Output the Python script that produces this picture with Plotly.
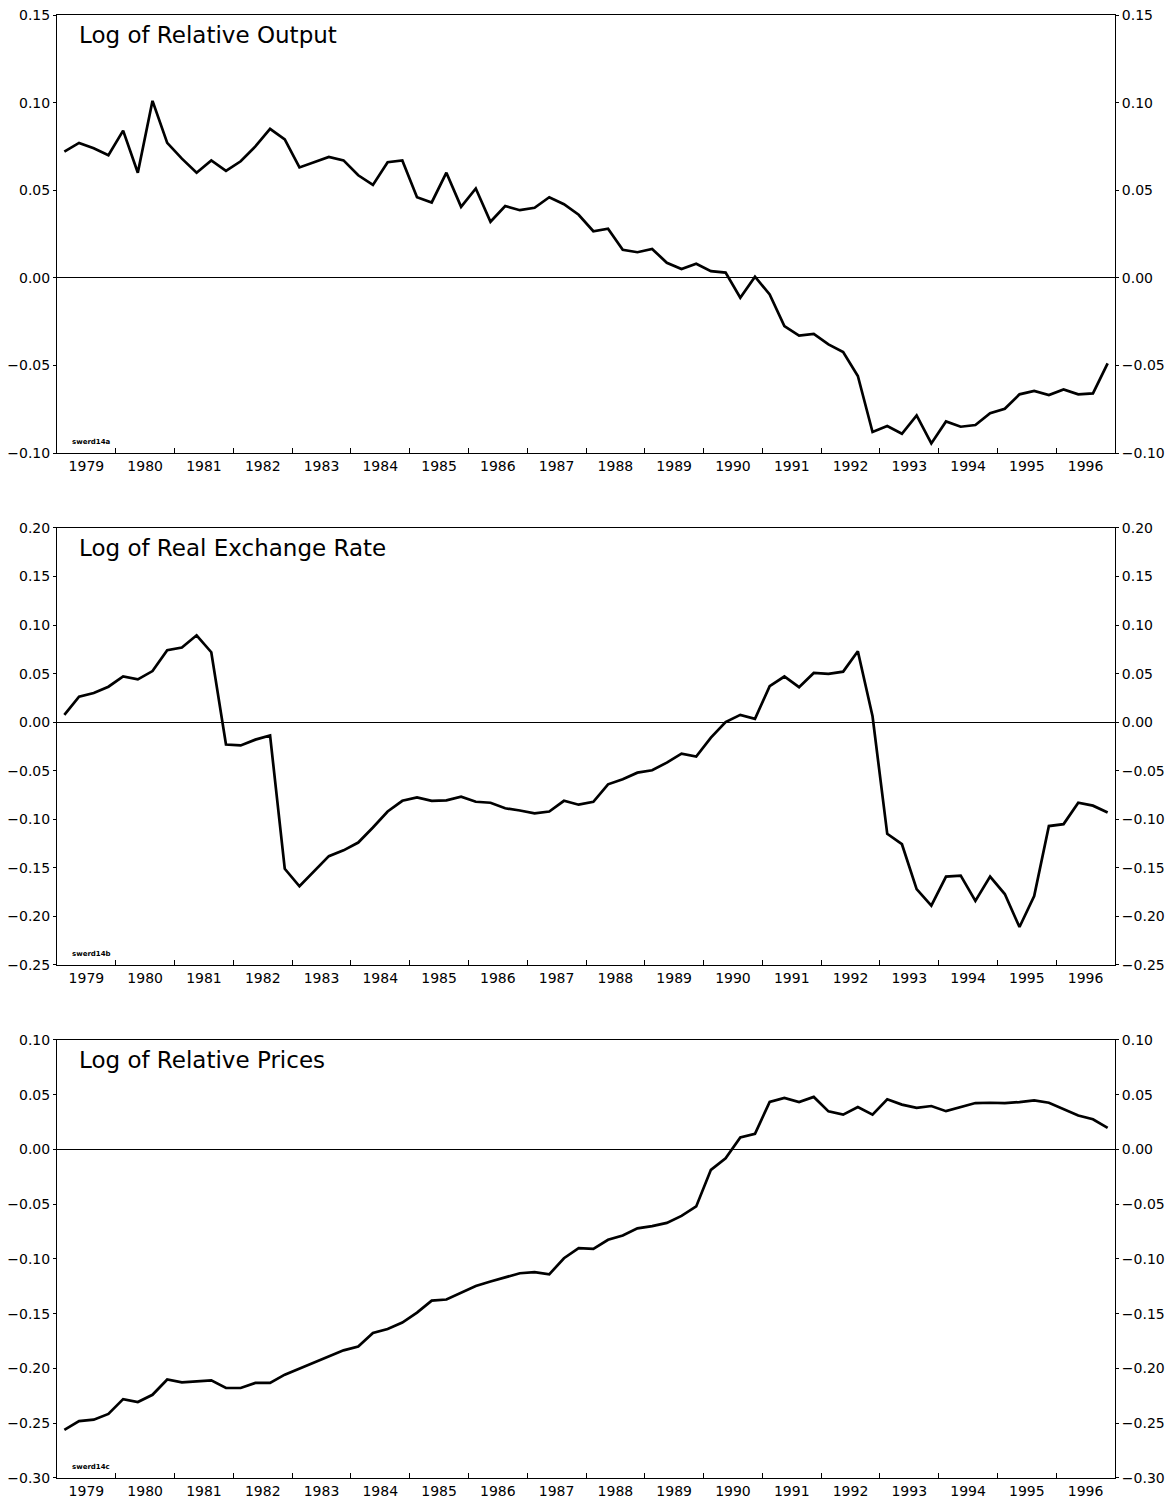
import plotly.graph_objects as go

# quarterly data, 1979Q1 .. 1996Q4
years = list(range(1979, 1997))
quarters = [f"{y}Q{q}" for y in years for q in range(1, 5)]

rel_output = [0.072, 0.077, 0.074, 0.070, 0.084, 0.060, 0.101, 0.077,
              0.068, 0.060, 0.067, 0.061, 0.0665, 0.075, 0.085, 0.079,
              0.063, 0.066, 0.069, 0.067, 0.0585, 0.053, 0.066, 0.067,
              0.046, 0.043, 0.060, 0.0405, 0.051, 0.032, 0.041, 0.0386,
              0.040, 0.046, 0.042, 0.036, 0.0266, 0.028, 0.016, 0.0146,
              0.0165, 0.0086, 0.005, 0.008, 0.0038, 0.003, -0.0114, 0.0006,
              -0.0095, -0.0276, -0.033, -0.032, -0.038, -0.0424, -0.056, -0.088,
              -0.0846, -0.089, -0.0785, -0.0945, -0.082, -0.085, -0.084, -0.0773,
              -0.0747, -0.0665, -0.0646, -0.0669, -0.0637, -0.0665, -0.066, -0.0488]

real_exch = [0.0075, 0.0263, 0.030, 0.0365, 0.047, 0.044, 0.0526, 0.074,
             0.0768, 0.0894, 0.072, -0.023, -0.024, -0.018, -0.0137, -0.151,
             -0.169, -0.1536, -0.138, -0.132, -0.124, -0.1085, -0.092, -0.081,
             -0.0775, -0.081, -0.0805, -0.0768, -0.082, -0.083, -0.0887, -0.091,
             -0.094, -0.092, -0.081, -0.085, -0.082, -0.064, -0.0587, -0.052,
             -0.0495, -0.0417, -0.0324, -0.0355, -0.016, 0.000, 0.0075, 0.0034,
             0.037, 0.047, 0.036, 0.0507, 0.0497, 0.052, 0.073, 0.006,
             -0.115, -0.1257, -0.172, -0.189, -0.159, -0.158, -0.184, -0.159,
             -0.177, -0.211, -0.179, -0.107, -0.105, -0.083, -0.086, -0.093]

rel_prices = [-0.256, -0.248, -0.2467, -0.2415, -0.228, -0.2306, -0.224, -0.210,
              -0.2126, -0.2117, -0.2108, -0.2178, -0.2178, -0.2132, -0.2132, -0.2056,
              -0.200, -0.195, -0.189, -0.1834, -0.180, -0.1675, -0.164, -0.158,
              -0.149, -0.138, -0.137, -0.1307, -0.1246, -0.1206, -0.1167, -0.113,
              -0.112, -0.114, -0.0993, -0.090, -0.0908, -0.0825, -0.0786, -0.072,
              -0.070, -0.067, -0.0606, -0.052, -0.0186, -0.008, 0.011, 0.0143,
              0.0435, 0.047, 0.0433, 0.048, 0.0348, 0.0318, 0.0388, 0.0318,
              0.0458, 0.041, 0.038, 0.0397, 0.035, 0.0388, 0.0424, 0.0427,
              0.0424, 0.0433, 0.0448, 0.0427, 0.0367, 0.031, 0.0276, 0.0197]

titles = ["Log of Relative Output", "Log of Real Exchange Rate", "Log of Relative Prices"]
codes = ["swerd14a", "swerd14b", "swerd14c"]
y_ranges = [[-0.10, 0.15], [-0.25, 0.20], [-0.30, 0.10]]
domains = [[0.7006, 1.0], [0.3507, 0.6494], [0.0, 0.2994]]

# quarter -> position in middle of the quarter
xq = [int(s[:4]) + (int(s[-1]) - 0.5) / 4 for s in quarters]

FONT = "DejaVu Sans"
fig = go.Figure()
layout = dict(
    width=1169, height=1503,
    margin=dict(l=57, r=54, t=15, b=25, autoexpand=False),
    paper_bgcolor="white", plot_bgcolor="white",
    showlegend=False,
    font=dict(family=FONT, size=14, color="black"),
)
annotations = []

for i, series in enumerate([rel_output, real_exch, rel_prices]):
    n = i + 1
    xa = "x" if n == 1 else f"x{n}"
    ya = "y" if n == 1 else f"y{n}"
    ya_r = f"y{n + 3}"
    fig.add_trace(go.Scatter(x=xq, y=series, xaxis=xa, yaxis=ya, mode="lines",
                             line=dict(color="black", width=2.7), hoverinfo="skip"))
    # invisible copy so the right-hand axis gets drawn
    fig.add_trace(go.Scatter(x=xq, y=series, xaxis=xa, yaxis=ya_r, mode="lines",
                             line=dict(color="rgba(0,0,0,0)", width=0), hoverinfo="skip"))

    xkey = "xaxis" if n == 1 else f"xaxis{n}"
    ykey = "yaxis" if n == 1 else f"yaxis{n}"
    layout[xkey] = dict(
        domain=[0, 1], anchor=ya, range=[1979, 1997], automargin=False,
        tickmode="array", tickvals=[y + 0.5 for y in years],
        ticktext=[str(y) for y in years], ticks="", ticklen=0,
        minor=dict(tickmode="array", tickvals=list(range(1980, 1997)),
                   ticks="inside", ticklen=5, tickcolor="black", showgrid=False),
        showline=True, mirror=True, linecolor="black", linewidth=1,
        showgrid=False, zeroline=False, tickfont=dict(size=14),
    )
    tickv = [round(y_ranges[i][0] + 0.05 * k, 2)
             for k in range(int(round((y_ranges[i][1] - y_ranges[i][0]) / 0.05)) + 1)]
    common_y = dict(range=y_ranges[i], tickmode="array", tickvals=tickv,
                    ticktext=[f"{v:.2f}".replace("-", "\u2212") for v in tickv],
                    ticks="outside", ticklen=3, tickcolor="black", automargin=False,
                    showgrid=False, tickfont=dict(size=14))
    layout[ykey] = dict(domain=domains[i], anchor=xa, showline=True, mirror=True,
                        linecolor="black", linewidth=1, zeroline=True,
                        zerolinecolor="black", zerolinewidth=1, **common_y)
    layout[f"yaxis{n + 3}"] = dict(overlaying=ya, side="right", anchor=xa,
                                   showline=False, zeroline=False, **common_y)

    annotations.append(dict(xref=f"{xa} domain", yref=f"{ya} domain", x=0.019, y=0.955,
                            xanchor="left", yanchor="middle", showarrow=False,
                            text=titles[i], font=dict(size=23, family=FONT)))
    annotations.append(dict(xref=f"{xa} domain", yref=f"{ya} domain", x=0.012, y=0.012,
                            xanchor="left", yanchor="bottom", showarrow=False,
                            text=f"<b>{codes[i]}</b>", font=dict(size=7, family=FONT)))

layout["annotations"] = annotations
fig.update_layout(**layout)
# drop the default 8px body margin so the figure fills the window exactly
fig.write_html("out.html", config={"displayModeBar": False},
               post_script="document.body.style.margin='0';")
